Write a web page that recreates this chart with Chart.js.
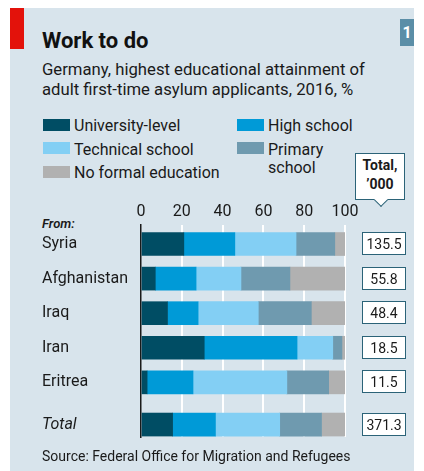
<!DOCTYPE html>
<html>
<head>
<meta charset="utf-8">
<script src="https://cdn.jsdelivr.net/npm/chart.js@4"></script>
<style>
  html, body { margin: 0; padding: 0; background: #fff; }
  body { width: 424px; height: 471px; position: relative; overflow: hidden; font-family: Roboto, "Noto Sans", sans-serif; color: #1a1a1a; }
  #panel { position: absolute; left: 10px; top: 8px; width: 404px; height: 463px; background: #d8e4ec; }
  #redbar { position: absolute; left: 10px; top: 8px; width: 14px; height: 41px; background: #e3120b; }
  #num { position: absolute; left: 400px; top: 19px; width: 14px; height: 27px; background: #5b8ea7; color: #fff; font-weight: 700; font-size: 16px; line-height: 27px; text-align: center; }
  .t { position: absolute; white-space: nowrap; }
  #title { left: 42px; top: 29.5px; font-size: 22px; line-height: 22px; font-weight: 700; color: #111; }
  #sub { left: 42px; top: 60px; font-size: 16.7px; line-height: 20px; }
  .sw { position: absolute; width: 27px; height: 12px; }
  .lg { font-size: 16px; line-height: 16px; }
  #from { left: 42px; top: 217px; font-size: 13px; line-height: 13px; font-style: italic; font-weight: 600; }
  #source { left: 42px; top: 449px; font-size: 14px; line-height: 14px; }
  #callout { position: absolute; left: 355px; top: 153px; width: 48px; height: 43px; background: #fff; border: 1px solid #2b6378; font-size: 14px; font-weight: 700; line-height: 19px; text-align: center; padding-top: 2px; box-sizing: content-box; }
  #callout:after { content: ""; position: absolute; left: 20px; bottom: -6px; width: 9px; height: 9px; background: #fff; border-right: 1px solid #2b6378; border-bottom: 1px solid #2b6378; transform: rotate(45deg); }
  #wrap { position: absolute; left: 0; top: 190px; width: 424px; height: 260px; }
</style>
</head>
<body>
<div id="panel"></div>
<div id="redbar"></div>
<div id="num">1</div>
<div class="t" id="title">Work to do</div>
<div class="t" id="sub">Germany, highest educational attainment of<br>adult first-time asylum applicants, 2016, %</div>
<div id="legend"></div>
<div id="callout">Total,<br>’000</div>
<div class="t" id="from">From:</div>
<div id="wrap"><canvas id="chart" width="424" height="260"></canvas></div>
<div class="t" id="source">Source: Federal Office for Migration and Refugees</div>
<script>
const countries = ['Syria', 'Afghanistan', 'Iraq', 'Iran', 'Eritrea', 'Total'];
const university = [21, 7, 13, 31, 3, 15.5];
const highSchool = [25, 20, 15, 45.5, 22.5, 21];
const technical = [30, 22, 29.5, 17.5, 46, 31.5];
const primary = [19, 24, 26, 4.5, 20.5, 20.5];
const noFormal = [5, 27, 16.5, 1.5, 8, 12];
const totals = ['135.5', '55.8', '48.4', '18.5', '11.5', '371.3'];
const xTicks = [0, 20, 40, 60, 80, 100];

// row slots; the "Total" row sits a bit lower than the others
const TOTAL_GAP = 0.22;
const rowPos = countries.map((c, i) => i === countries.length - 1 ? i + TOTAL_GAP : i);

const series = [
  { label: 'University-level', data: university, color: '#004d64' },
  { label: 'High school', data: highSchool, color: '#009ad7' },
  { label: 'Technical school', data: technical, color: '#83cff4' },
  { label: 'Primary\nschool', data: primary, color: '#6f9aaf' },
  { label: 'No formal education', data: noFormal, color: '#b1b1b1' }
];

// html legend
const legendSpots = [
  { sx: 43, sy: 119, tx: 74, ty: 117.5 },
  { sx: 237, sy: 119, tx: 268, ty: 117.5 },
  { sx: 43, sy: 142, tx: 74, ty: 141.5 },
  { sx: 237, sy: 142, tx: 268, ty: 140.5 },
  { sx: 43, sy: 166, tx: 74, ty: 164.5 }
];
const legendEl = document.getElementById('legend');
series.forEach((s, i) => {
  const p = legendSpots[i];
  const sw = document.createElement('div');
  sw.className = 'sw';
  sw.style.left = p.sx + 'px'; sw.style.top = p.sy + 'px'; sw.style.background = s.color;
  legendEl.appendChild(sw);
  const tx = document.createElement('div');
  tx.className = 't lg';
  tx.style.left = p.tx + 'px'; tx.style.top = p.ty + 'px';
  if (s.label.includes('\n')) tx.style.lineHeight = '18px';
  tx.innerHTML = s.label.replace('\n', '<br>');
  legendEl.appendChild(tx);
});

const totalsPlugin = {
  id: 'totals',
  afterDatasetsDraw(chart) {
    const ctx = chart.ctx, y = chart.scales.y;
    ctx.save();
    ctx.font = '14px Roboto';
    ctx.textAlign = 'center';
    ctx.textBaseline = 'middle';
    rowPos.forEach((pos, i) => {
      const cy = Math.round(y.getPixelForValue(pos));
      ctx.fillStyle = '#fff';
      ctx.fillRect(362.5, cy - 11.5, 43, 22);
      ctx.strokeStyle = '#2b6378';
      ctx.lineWidth = 1;
      ctx.strokeRect(362.5, cy - 11.5, 43, 22);
      ctx.fillStyle = '#1a1a1a';
      ctx.fillText(totals[i], 384, cy + 1);
    });
    ctx.restore();
  }
};

new Chart(document.getElementById('chart'), {
  type: 'bar',
  data: {
    datasets: series.map(s => ({
      label: s.label,
      data: s.data.map((v, i) => ({ x: v, y: rowPos[i] })),
      backgroundColor: s.color,
      borderWidth: 0,
      barThickness: 23
    }))
  },
  options: {
    indexAxis: 'y',
    responsive: false,
    animation: false,
    layout: { padding: { left: 42, right: 79, top: 0, bottom: 13 } },
    plugins: { legend: { display: false }, tooltip: { enabled: false } },
    scales: {
      x: {
        type: 'linear', position: 'top', stacked: true, min: 0, max: 100,
        afterBuildTicks: s => { s.ticks = xTicks.map(v => ({ value: v })); },
        afterFit: s => { s.height = 35; s.paddingLeft = 0; s.paddingRight = 0; },
        border: { display: false },
        grid: {
          drawTicks: false,
          color: c => c.tick && c.tick.value === 0 ? 'rgba(0,0,0,0)' : '#ffffff',
          lineWidth: 2
        },
        ticks: { padding: 3, color: '#1a1a1a', font: { family: 'Roboto', size: 16 } }
      },
      y: {
        type: 'linear', stacked: true, reverse: true, offset: false,
        min: -0.55, max: countries.length - 1 + TOTAL_GAP + 0.36,
        afterBuildTicks: s => { s.ticks = rowPos.map(v => ({ value: v })); },
        afterFit: s => { s.width = 99; s.paddingTop = 0; s.paddingBottom = 0; },
        border: { display: true, color: '#1a1a1a', width: 1.5 },
        grid: { display: false, offset: false },
        ticks: {
          crossAlign: 'far', padding: 0, color: '#1a1a1a',
          callback: (v, i) => countries[i],
          font: c => ({ family: 'Roboto', size: 16, style: c.index === countries.length - 1 ? 'italic' : 'normal' })
        }
      }
    }
  },
  plugins: [totalsPlugin]
});
</script>
</body>
</html>
